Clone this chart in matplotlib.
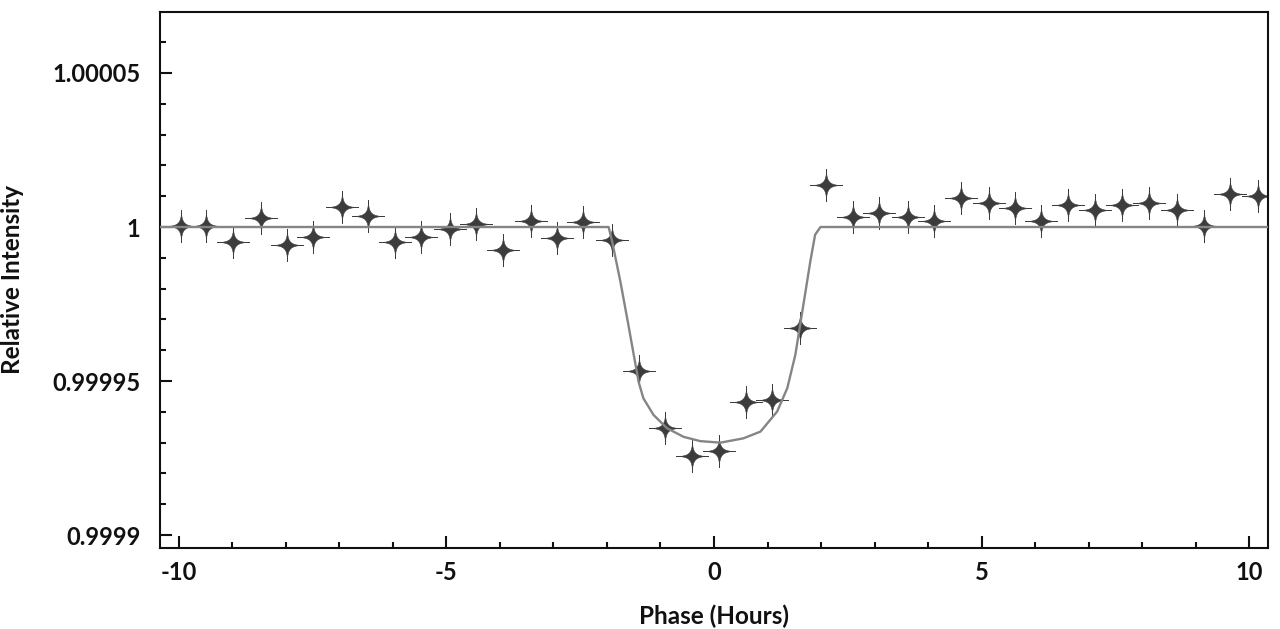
import matplotlib
matplotlib.use("Agg")
import matplotlib.pyplot as plt
from matplotlib.path import Path
from matplotlib.ticker import FixedLocator, FixedFormatter, MultipleLocator

# ---- data ----
phase = [-9.97, -9.49, -8.99, -8.46, -7.98, -7.49, -6.95, -6.46, -5.96, -5.47,
         -4.93, -4.45, -3.95, -3.42, -2.94, -2.44, -1.91, -1.41, -0.91, -0.42,
         0.10, 0.59, 1.08, 1.61, 2.10, 2.59, 3.09, 3.62, 4.12, 4.61,
         5.14, 5.63, 6.12, 6.61, 7.13, 7.63, 8.13, 8.66, 9.16, 9.64, 10.17]
intensity = [1.0000002, 1.0000002, 0.9999950, 1.0000029, 0.9999942, 0.9999969,
             1.0000065, 1.0000036, 0.9999950, 0.9999969, 0.9999993, 1.0000009,
             0.9999926, 1.0000021, 0.9999964, 1.0000015, 0.9999958, 0.9999531,
             0.9999347, 0.9999258, 0.9999273, 0.9999433, 0.9999439, 0.9999673,
             1.0000135, 1.0000034, 1.0000045, 1.0000031, 1.0000020, 1.0000094,
             1.0000078, 1.0000063, 1.0000021, 1.0000072, 1.0000056, 1.0000070,
             1.0000078, 1.0000056, 1.0000002, 1.0000107, 1.0000101]

model_phase = [-10.35, -1.97, -1.91, -1.75, -1.60, -1.50, -1.41, -1.32, -1.13,
               -0.88, -0.57, -0.26, 0.12, 0.55, 0.87, 1.18, 1.37, 1.52, 1.61,
               1.71, 1.80, 1.89, 1.99, 10.35]
model_intensity = [1.0, 1.0, 0.9999958, 0.9999823, 0.9999682, 0.9999585,
                   0.9999498, 0.9999444, 0.9999390, 0.9999347, 0.9999319,
                   0.9999305, 0.9999300, 0.9999314, 0.9999336, 0.9999401,
                   0.9999477, 0.9999585, 0.9999682, 0.9999790, 0.9999888,
                   0.9999975, 1.0, 1.0]

x_ticks = [-10, -5, 0, 5, 10]
x_ticklabels = ["-10", "-5", "0", "5", "10"]
y_ticks = [0.9999, 0.99995, 1.0, 1.00005]
y_ticklabels = ["0.9999", "0.99995", "1", "1.00005"]

# ---- style ----
FONT = "Lato"
plt.rcParams["font.family"] = [FONT, "DejaVu Sans"]
TXT = "#111111"
FS = 17

# four-pointed sparkle marker
c = 0.2
verts = [(0, 1), (0, c), (c, 0), (1, 0),
         (c, 0), (0, -c), (0, -1),
         (0, -c), (-c, 0), (-1, 0),
         (-c, 0), (0, c), (0, 1), (0, 1)]
codes = [Path.MOVETO, Path.CURVE4, Path.CURVE4, Path.CURVE4,
         Path.CURVE4, Path.CURVE4, Path.CURVE4,
         Path.CURVE4, Path.CURVE4, Path.CURVE4,
         Path.CURVE4, Path.CURVE4, Path.CURVE4, Path.CLOSEPOLY]
star = Path(verts, codes)

fig = plt.figure(figsize=(12.8, 6.29), dpi=100)
ax = fig.add_axes([160 / 1280, 1 - 548 / 629, (1268 - 160) / 1280, (548 - 12) / 629])

ax.plot(phase, intensity, linestyle="none", marker=star, markersize=23.5,
        markerfacecolor="#3c3c3c", markeredgecolor="#3c3c3c", markeredgewidth=0.4,
        zorder=2)
ax.plot(model_phase, model_intensity, color="#858585", linewidth=1.7, zorder=3)

ax.set_xlim(-10.355, 10.355)
ax.set_ylim(0.9998958, 1.0000698)

ax.xaxis.set_major_locator(FixedLocator(x_ticks))
ax.xaxis.set_major_formatter(FixedFormatter(x_ticklabels))
ax.xaxis.set_minor_locator(MultipleLocator(1))
ax.yaxis.set_major_locator(FixedLocator(y_ticks))
ax.yaxis.set_major_formatter(FixedFormatter(y_ticklabels))
ax.yaxis.set_minor_locator(MultipleLocator(0.00001))

for s in ax.spines.values():
    s.set_linewidth(1.5)
    s.set_color(TXT)

ax.tick_params(axis="both", which="both", direction="in", top=False, right=False,
               color=TXT, width=1.5)
ax.tick_params(axis="both", which="major", length=8.6)
ax.tick_params(axis="both", which="minor", length=4.3)
ax.tick_params(axis="y", which="major", pad=14, labelsize=FS)
ax.tick_params(axis="x", which="major", pad=9, labelsize=FS)
for lab in ax.get_xticklabels() + ax.get_yticklabels():
    lab.set_fontweight("bold")
    lab.set_color(TXT)

ax.set_xlabel("Phase (Hours)", fontsize=17.5, fontweight="bold", color=TXT)
ax.set_ylabel("Relative Intensity", fontsize=17.5, fontweight="bold", color=TXT)
ax.xaxis.set_label_coords(0.5, -0.106)
ax.yaxis.set_label_coords(-0.123, 0.5)

fig.savefig("out.png", dpi=100, facecolor="white")
